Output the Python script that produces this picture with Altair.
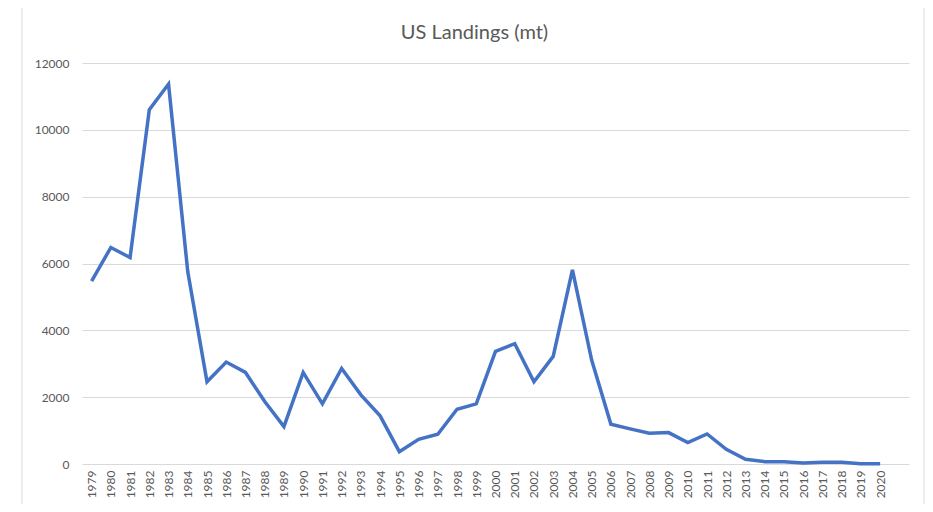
import altair as alt
import pandas as pd

years = list(range(1979, 2021))
landings = [5470, 6480, 6180, 10600, 11370, 5750, 2460, 3050, 2740, 1870,
            1120, 2740, 1800, 2860, 2070, 1440, 370, 740, 890, 1640,
            1800, 3370, 3600, 2460, 3220, 5810, 3110, 1190, 1050, 920,
            940, 640, 900, 440, 140, 70, 70, 30, 50, 50,
            10, 10]

df = pd.DataFrame({"year": years, "landings": landings})

FONT = "Lato"
GREY = "#595959"

frame = alt.Chart(alt.Data(values=[{}])).mark_rect(
    filled=False, stroke="#d9d9d9", strokeWidth=1
).encode(
    x=alt.value(-60), x2=alt.value(842), y=alt.value(-59), y2=alt.value(470)
)

line = alt.Chart(df).mark_line(color="#4472C4", strokeWidth=3.5).encode(
    x=alt.X("year:Q",
            scale=alt.Scale(domain=[1978.5, 2021.5], nice=False, zero=False),
            axis=alt.Axis(values=years, format="d", labelAngle=270, grid=False,
                          ticks=False, domain=False, labelPadding=6,
                          labelColor=GREY, labelFont=FONT, labelFontSize=12,
                          title=None, labelOverlap=False)),
    y=alt.Y("landings:Q",
            scale=alt.Scale(domain=[0, 12000], nice=False),
            axis=alt.Axis(values=[0, 2000, 4000, 6000, 8000, 10000, 12000],
                          format="d", grid=True, gridColor="#d9d9d9",
                          gridWidth=1, ticks=False, domain=False,
                          labelPadding=13, labelColor=GREY, labelFont=FONT,
                          labelFontSize=12, title=None)),
)

chart = alt.layer(frame, line).properties(
    width=827,
    height=401,
    autosize=alt.AutoSizeParams(type="none"),
    padding={"left": 74, "top": 55, "right": 16, "bottom": 40},
    background="white",
    title=alt.TitleParams("US Landings (mt)", font=FONT, fontSize=20,
                          fontWeight="normal", color=GREY, anchor="middle",
                          dx=-21, offset=-39),
).configure_view(stroke=None)

chart.save("out.html", embed_options={"renderer": "svg", "actions": False})
